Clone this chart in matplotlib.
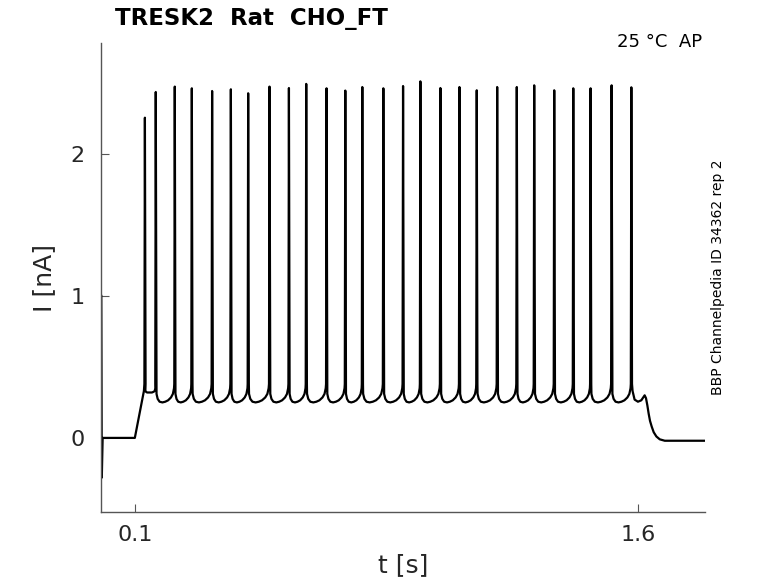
import matplotlib
matplotlib.use("Agg")
import matplotlib.pyplot as plt

# spike times [s] and peak currents [nA]
spike_t = [0.130, 0.1624, 0.2191, 0.2699, 0.3304, 0.3863, 0.4379, 0.5015, 0.5594,
           0.6110, 0.6716, 0.7275, 0.7782, 0.8409, 0.8997, 0.9513, 1.0110, 1.0678,
           1.1194, 1.1803, 1.2388, 1.2907, 1.3504, 1.4072, 1.4588, 1.5215, 1.5803]
spike_peak = [2.256, 2.437, 2.475, 2.463, 2.444, 2.456, 2.428, 2.475, 2.465,
              2.494, 2.463, 2.447, 2.472, 2.463, 2.479, 2.512, 2.465, 2.472,
              2.449, 2.472, 2.472, 2.484, 2.449, 2.463, 2.463, 2.484, 2.470]

# shape between two spikes: fraction of the interval -> current
isi_frac = [0.04, 0.10, 0.20, 0.35, 0.50, 0.65, 0.80, 0.90, 0.96]
isi_level = [0.31, 0.275, 0.255, 0.25, 0.255, 0.265, 0.285, 0.31, 0.35]
first_isi_level = [0.33, 0.325, 0.32, 0.32, 0.32, 0.32, 0.325, 0.33, 0.35]
spike_base = 0.38

# before the first spike (artifact at t=0, baseline, ramp)
pre_t = [0.0, 0.0015, 0.004, 0.100, 0.127]
pre_i = [1.0, -0.28, 0.0, 0.0, 0.33]

# after the last spike (end of step, decay)
post_t = [1.584, 1.590, 1.600, 1.610, 1.617, 1.620, 1.624, 1.628, 1.632, 1.636,
          1.641, 1.647, 1.655, 1.665, 1.680, 1.800]
post_i = [0.33, 0.27, 0.255, 0.265, 0.29, 0.30, 0.28, 0.23, 0.17, 0.12,
          0.08, 0.04, 0.01, -0.01, -0.02, -0.02]

# build the trace
t = list(pre_t)
cur = list(pre_i)
for k in range(len(spike_t)):
    t += [spike_t[k] - 0.0015, spike_t[k], spike_t[k] + 0.002]
    cur += [spike_base, spike_peak[k], spike_base]
    if k < len(spike_t) - 1:
        span = spike_t[k + 1] - spike_t[k]
        levels = first_isi_level if k == 0 else isi_level
        for f, v in zip(isi_frac, levels):
            t.append(spike_t[k] + f * span)
            cur.append(v)
t += post_t
cur += post_i

fig = plt.figure(figsize=(7.78, 5.83), dpi=100)
ax = fig.add_axes([0.1302, 0.1213, 0.7760, 0.8044])
ax.plot(t, cur, color="black", lw=1.6)

ax.set_xlim(0, 1.8)
ax.set_ylim(-0.524, 2.78)
ax.set_xticks([0.1, 1.6])
ax.set_xticklabels(["0.1", "1.6"])
ax.set_yticks([0, 1, 2])
ax.set_yticklabels(["0", "1", "2"])

for side in ["top", "right"]:
    ax.spines[side].set_visible(False)
for side in ["left", "bottom"]:
    ax.spines[side].set_color("#555555")
    ax.spines[side].set_linewidth(1.0)
ax.tick_params(direction="in", length=6, color="#555555", labelsize=16,
               labelcolor="#262626")
ax.tick_params(axis="x", pad=9)
ax.tick_params(axis="y", pad=12)

ax.set_xlabel("t [s]", fontsize=18, color="#262626", labelpad=6)
ax.set_ylabel("I [nA]", fontsize=18, color="#262626", labelpad=10)

fig.text(0.148, 0.969, "TRESK2  Rat  CHO_FT", fontsize=16.5, fontweight="bold",
         ha="left", va="center")
fig.text(0.902, 0.9285, "25 °C  AP", fontsize=13, ha="right", va="center")
fig.text(0.923, 0.524, "BBP Channelpedia ID 34362 rep 2", fontsize=10,
         rotation=90, ha="center", va="center")

fig.savefig("out.png", dpi=100)
